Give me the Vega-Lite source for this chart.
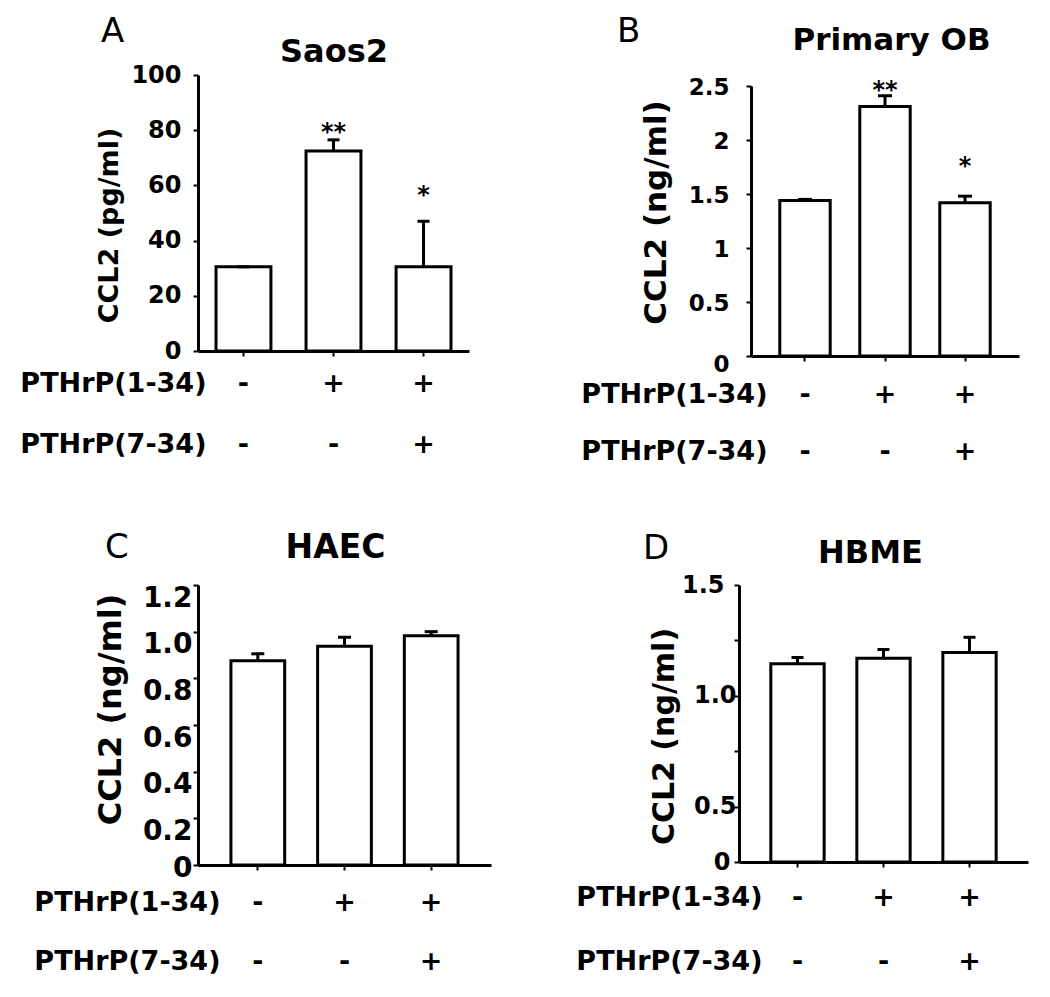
{
  "$schema": "https://vega.github.io/schema/vega-lite/v6.json",
  "background": "white",
  "padding": {"left": 19, "top": 15, "right": 5, "bottom": 5},
  "data": {"values": [
    {"panel": "A", "cond": "-|-", "mean": 30.5, "upper": 30.5, "sig": ""},
    {"panel": "A", "cond": "+|-", "mean": 72.5, "upper": 76.5, "sig": "**"},
    {"panel": "A", "cond": "+|+", "mean": 30.5, "upper": 47, "sig": "*"},
    {"panel": "B", "cond": "-|-", "mean": 1.44, "upper": 1.45, "sig": ""},
    {"panel": "B", "cond": "+|-", "mean": 2.31, "upper": 2.41, "sig": "**"},
    {"panel": "B", "cond": "+|+", "mean": 1.42, "upper": 1.48, "sig": "*"},
    {"panel": "C", "cond": "-|-", "mean": 0.875, "upper": 0.905, "sig": ""},
    {"panel": "C", "cond": "+|-", "mean": 0.937, "upper": 0.976, "sig": ""},
    {"panel": "C", "cond": "+|+", "mean": 0.983, "upper": 1.0, "sig": ""},
    {"panel": "D", "cond": "-|-", "mean": 1.145, "upper": 1.173, "sig": ""},
    {"panel": "D", "cond": "+|-", "mean": 1.17, "upper": 1.209, "sig": ""},
    {"panel": "D", "cond": "+|+", "mean": 1.195, "upper": 1.264, "sig": ""}
  ]},
  "config": {
    "view": {"stroke": null},
    "font": "DejaVu Sans",
    "axis": {
      "grid": false, "domainColor": "black", "domainWidth": 3,
      "tickColor": "black", "tickWidth": 2, "tickSize": 5,
      "labelColor": "black", "titleColor": "black",
      "labelFont": "DejaVu Sans", "titleFont": "DejaVu Sans",
      "labelFontWeight": "bold", "titleFontWeight": "bold",
      "labelOverlap": false
    },
    "title": {"color": "black", "font": "DejaVu Sans", "fontWeight": "normal", "anchor": "start", "frame": "group", "baseline": "alphabetic", "fontSize": 34}
  },
  "columns": 2,
  "bounds": "flush",
  "spacing": {"row": 229, "column": 248},
  "concat": [
    {
      "title": {"text": "A", "dx": -97, "offset": -14},
      "width": 271, "height": 276,
      "transform": [{"filter": "datum.panel === 'A'"}],
      "layer": [
        {"mark": {"type": "bar", "fill": "white", "stroke": "black", "strokeWidth": 3},
         "encoding": {
           "x": {"field": "cond", "type": "nominal",
                 "scale": {"domain": ["-|-", "+|-", "+|+"], "paddingInner": 0.39, "paddingOuter": 0.2},
                 "axis": {"orient": "bottom", "labelExpr": "split(datum.label, '|')", "labelAngle": 0, "labelBaseline": "top", "labelLineHeight": 61, "labelFontSize": 27, "labelPadding": 14.5,
                          "title": ["PTHrP(1-34)", "PTHrP(7-34)"], "titleX": 8, "titleY": 19.5, "titleAlign": "right", "titleAngle": 0, "titleBaseline": "top", "titleLineHeight": 61, "titleFontSize": 27}},
           "y": {"field": "mean", "type": "quantitative",
                 "scale": {"domain": [0, 100], "nice": false},
                 "axis": {"values": [0, 20, 40, 60, 80, 100], "title": "CCL2 (pg/ml)", "titleFontSize": 27, "titlePadding": 7, "titleY": 150, "labelFontSize": 24, "labelPadding": 12}}
         }},
        {"mark": {"type": "rule", "color": "black", "strokeWidth": 3},
         "encoding": {
           "x": {"field": "cond", "type": "nominal", "axis": {"orient": "top", "title": "Saos2", "labels": false, "ticks": false, "domain": false, "titleFontSize": 32, "titlePadding": 14, "titleBaseline": "alphabetic"}},
           "y": {"field": "mean", "type": "quantitative"},
           "y2": {"field": "upper"}
         }},
        {"mark": {"type": "tick", "color": "black", "thickness": 3, "size": 12, "opacity": 1},
         "encoding": {
           "x": {"field": "cond", "type": "nominal", "axis": null},
           "y": {"field": "upper", "type": "quantitative"}
         }},
        {"transform": [{"filter": "datum.sig === '**'"}],
         "mark": {"type": "text", "fontSize": 24, "fontWeight": "bold", "baseline": "alphabetic", "dy": 0, "color": "black"},
         "encoding": {
           "x": {"field": "cond", "type": "nominal", "axis": null},
           "y": {"field": "upper", "type": "quantitative"},
           "text": {"field": "sig"}
         }},
        {"transform": [{"filter": "datum.sig === '*'"}],
         "mark": {"type": "text", "fontSize": 24, "fontWeight": "bold", "baseline": "alphabetic", "dy": -18, "color": "black"},
         "encoding": {
           "x": {"field": "cond", "type": "nominal", "axis": null},
           "y": {"field": "upper", "type": "quantitative"},
           "text": {"field": "sig"}
         }}
      ]
    },
    {
      "title": {"text": "B", "dx": -122, "offset": -25},
      "width": 280, "height": 281,
      "transform": [{"filter": "datum.panel === 'B'"}],
      "layer": [
        {"mark": {"type": "bar", "fill": "white", "stroke": "black", "strokeWidth": 3},
         "encoding": {
           "x": {"field": "cond", "type": "nominal",
                 "scale": {"domain": ["-|-", "+|-", "+|+"], "range": [12, 280], "paddingInner": 0.37, "paddingOuter": 0.36},
                 "axis": {"orient": "bottom", "labelExpr": "split(datum.label, '|')", "labelAngle": 0, "labelBaseline": "top", "labelLineHeight": 57, "labelFontSize": 27, "labelPadding": 20.5,
                          "title": ["PTHrP(1-34)", "PTHrP(7-34)"], "titleX": 28, "titleY": 25.5, "titleAlign": "right", "titleAngle": 0, "titleBaseline": "top", "titleLineHeight": 57, "titleFontSize": 27}},
           "y": {"field": "mean", "type": "quantitative",
                 "scale": {"domain": [0, 2.5], "range": [281, 11], "nice": false},
                 "axis": {"offset": -12, "values": [0, 0.5, 1, 1.5, 2, 2.5], "labelExpr": "'' + datum.value", "title": "CCL2 (ng/ml)", "titleFontSize": 31, "titlePadding": 16, "titleY": 137, "labelFontSize": 23, "labelPadding": 17,
                          "labelOffset": {"condition": {"test": "datum.value === 0", "value": 8}, "value": 1}}}
         }},
        {"mark": {"type": "rule", "color": "black", "strokeWidth": 3},
         "encoding": {
           "x": {"field": "cond", "type": "nominal", "axis": {"orient": "top", "title": "Primary OB", "labels": false, "ticks": false, "domain": false, "titleFontSize": 31, "titlePadding": 26, "titleBaseline": "alphabetic", "titleX": 152, "titleAlign": "center"}},
           "y": {"field": "mean", "type": "quantitative"},
           "y2": {"field": "upper"}
         }},
        {"mark": {"type": "tick", "color": "black", "thickness": 3, "size": 14, "opacity": 1},
         "encoding": {
           "x": {"field": "cond", "type": "nominal", "axis": null},
           "y": {"field": "upper", "type": "quantitative"}
         }},
        {"transform": [{"filter": "datum.sig === '**'"}],
         "mark": {"type": "text", "fontSize": 24, "fontWeight": "bold", "baseline": "alphabetic", "dy": 2, "color": "black"},
         "encoding": {
           "x": {"field": "cond", "type": "nominal", "axis": null},
           "y": {"field": "upper", "type": "quantitative"},
           "text": {"field": "sig"}
         }},
        {"transform": [{"filter": "datum.sig === '*'"}],
         "mark": {"type": "text", "fontSize": 24, "fontWeight": "bold", "baseline": "alphabetic", "dy": -22, "color": "black"},
         "encoding": {
           "x": {"field": "cond", "type": "nominal", "axis": null},
           "y": {"field": "upper", "type": "quantitative"},
           "text": {"field": "sig"}
         }}
      ]
    },
    {
      "title": {"text": "C", "dx": -93, "offset": -34},
      "width": 293, "height": 280,
      "transform": [{"filter": "datum.panel === 'C'"}],
      "layer": [
        {"mark": {"type": "bar", "fill": "white", "stroke": "black", "strokeWidth": 3},
         "encoding": {
           "x": {"field": "cond", "type": "nominal",
                 "scale": {"domain": ["-|-", "+|-", "+|+"], "paddingInner": 0.38, "paddingOuter": 0.38},
                 "axis": {"orient": "bottom", "labelExpr": "split(datum.label, '|')", "labelAngle": 0, "labelBaseline": "top", "labelLineHeight": 59, "labelFontSize": 27, "labelPadding": 19.5,
                          "title": ["PTHrP(1-34)", "PTHrP(7-34)"], "titleX": 22, "titleY": 24.5, "titleAlign": "right", "titleAngle": 0, "titleBaseline": "top", "titleLineHeight": 59, "titleFontSize": 27}},
           "y": {"field": "mean", "type": "quantitative",
                 "scale": {"domain": [0, 1.2], "nice": false},
                 "axis": {"values": [0, 0.2, 0.4, 0.6, 0.8, 1.0, 1.2], "labelExpr": "datum.value === 0 ? '0' : format(datum.value, '.1f')", "title": "CCL2 (ng/ml)", "titleFontSize": 32, "titlePadding": 15, "titleY": 124, "labelFontSize": 28, "labelPadding": 1,
                          "labelOffset": {"condition": {"test": "datum.value === 0", "value": 3}, "value": 13}}}
         }},
        {"mark": {"type": "rule", "color": "black", "strokeWidth": 3},
         "encoding": {
           "x": {"field": "cond", "type": "nominal", "axis": {"orient": "top", "title": "HAEC", "labels": false, "ticks": false, "domain": false, "titleFontSize": 33, "titlePadding": 28, "titleBaseline": "alphabetic", "titleX": 137, "titleAlign": "center"}},
           "y": {"field": "mean", "type": "quantitative"},
           "y2": {"field": "upper"}
         }},
        {"mark": {"type": "tick", "color": "black", "thickness": 3, "size": 13, "opacity": 1},
         "encoding": {
           "x": {"field": "cond", "type": "nominal", "axis": null},
           "y": {"field": "upper", "type": "quantitative"}
         }}
      ]
    },
    {
      "title": {"text": "D", "dx": -96, "offset": -30},
      "width": 289, "height": 277,
      "transform": [{"filter": "datum.panel === 'D'"}],
      "layer": [
        {"mark": {"type": "bar", "fill": "white", "stroke": "black", "strokeWidth": 3},
         "encoding": {
           "x": {"field": "cond", "type": "nominal",
                 "scale": {"domain": ["-|-", "+|-", "+|+"], "paddingInner": 0.38, "paddingOuter": 0.37},
                 "axis": {"orient": "bottom", "labelExpr": "split(datum.label, '|')", "labelAngle": 0, "labelBaseline": "top", "labelLineHeight": 64, "labelFontSize": 27, "labelPadding": 17.5,
                          "title": ["PTHrP(1-34)", "PTHrP(7-34)"], "titleX": 23, "titleY": 22.5, "titleAlign": "right", "titleAngle": 0, "titleBaseline": "top", "titleLineHeight": 64, "titleFontSize": 27}},
           "y": {"field": "mean", "type": "quantitative",
                 "scale": {"domain": [0, 0.5, 1.0, 1.5], "range": [277, 221.6, 110.8, 0], "nice": false, "zero": false},
                 "axis": {"values": [0, 0.5, 0.75, 1.0, 1.25, 1.5], "labelExpr": "datum.value === 0 ? '0' : (datum.value === 0.75 || datum.value === 1.25) ? '' : format(datum.value, '.1f')", "title": "CCL2 (ng/ml)", "titleFontSize": 30, "titlePadding": 2, "titleY": 151, "labelFontSize": 24,
                          "labelPadding": {"condition": [{"test": "datum.value === 1.5", "value": 10}, {"test": "datum.value === 0", "value": 4}], "value": -2}}}
         }},
        {"mark": {"type": "rule", "color": "black", "strokeWidth": 3},
         "encoding": {
           "x": {"field": "cond", "type": "nominal", "axis": {"orient": "top", "title": "HBME", "labels": false, "ticks": false, "domain": false, "titleFontSize": 32, "titlePadding": 23, "titleBaseline": "alphabetic", "titleX": 131, "titleAlign": "center"}},
           "y": {"field": "mean", "type": "quantitative"},
           "y2": {"field": "upper"}
         }},
        {"mark": {"type": "tick", "color": "black", "thickness": 3, "size": 12, "opacity": 1},
         "encoding": {
           "x": {"field": "cond", "type": "nominal", "axis": null},
           "y": {"field": "upper", "type": "quantitative"}
         }}
      ]
    }
  ]
}
